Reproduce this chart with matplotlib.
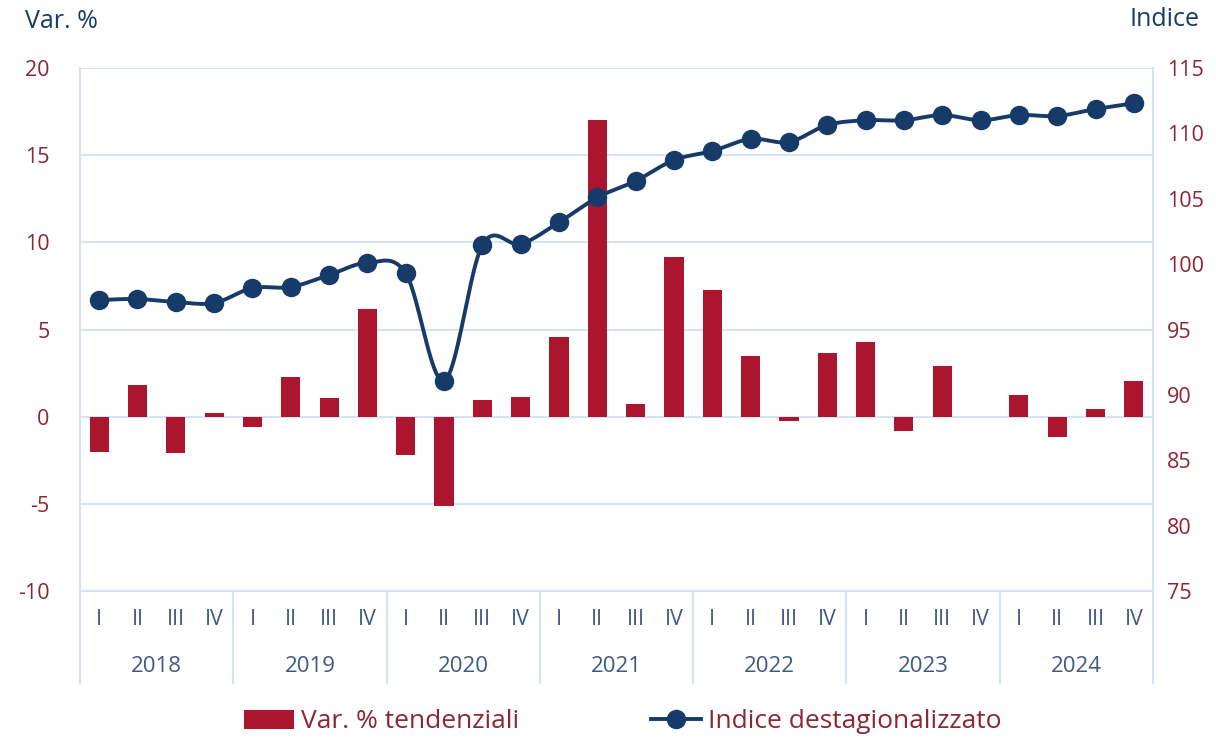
import numpy as np
import matplotlib.pyplot as plt
from matplotlib.lines import Line2D
from matplotlib.patches import Patch

plt.rcParams['font.family'] = ['Open Sans', 'DejaVu Sans']
plt.rcParams['axes.unicode_minus'] = False

years = ['2018', '2019', '2020', '2021', '2022', '2023', '2024']
quarters = ['I', 'II', 'III', 'IV']

var_tend = [-2.0, 1.8, -2.1, 0.2,
            -0.6, 2.3, 1.05, 6.2,
            -2.2, -5.1, 0.95, 1.1,
            4.55, 17.0, 0.72, 9.15,
            7.25, 3.47, -0.25, 3.64,
            4.27, -0.83, 2.9, 0.0,
            1.23, -1.18, 0.43, 2.04]

indice = [97.26, 97.33, 97.1, 97.03,
          98.17, 98.25, 99.17, 100.1,
          99.3, 91.06, 101.46, 101.54,
          103.2, 105.1, 106.36, 107.96,
          108.65, 109.57, 109.34, 110.64,
          111.0, 111.0, 111.4, 111.0,
          111.4, 111.33, 111.86, 112.3]

RED = '#AB162E'
NAVY = '#173B69'
TICK_RED = '#8C2633'
CAT = '#3E5A80'
GRID = '#D5E4F5'


def smooth(x, y, n=20):
    # catmull-rom, like the excel smoothed line
    x = np.asarray(x, float)
    y = np.asarray(y, float)
    px = np.concatenate([[2 * x[0] - x[1]], x, [2 * x[-1] - x[-2]]])
    py = np.concatenate([[2 * y[0] - y[1]], y, [2 * y[-1] - y[-2]]])
    xs, ys = [], []
    t = np.linspace(0, 1, n, endpoint=False)
    for i in range(1, len(px) - 2):
        for p, out in ((px, xs), (py, ys)):
            p0, p1, p2, p3 = p[i - 1], p[i], p[i + 1], p[i + 2]
            out.extend(0.5 * ((2 * p1) + (-p0 + p2) * t
                              + (2 * p0 - 5 * p1 + 4 * p2 - p3) * t ** 2
                              + (-p0 + 3 * p1 - 3 * p2 + p3) * t ** 3))
    xs.append(x[-1])
    ys.append(y[-1])
    return np.array(xs), np.array(ys)


fig = plt.figure(figsize=(12.16, 7.39), dpi=100)
ax = fig.add_axes([80 / 1216, 148 / 739, 1073 / 1216, 523 / 739])
ax2 = ax.twinx()

x = np.arange(len(var_tend))
ax.bar(x, var_tend, width=0.5, color=RED, zorder=3)
ax.set_xlim(-0.5, len(x) - 0.5)
ax.set_ylim(-10, 20)
ax.set_yticks(range(-10, 21, 5))
ax.yaxis.grid(True, color=GRID, lw=1.5, zorder=0)
ax.set_axisbelow(True)
ax.tick_params(axis='y', length=0, pad=22, labelsize=15.5, labelcolor=TICK_RED)
ax.set_xticks([])

sx, sy = smooth(x, indice)
ax2.plot(sx, sy, color=NAVY, lw=2.8, zorder=4)
ax2.plot(x, indice, 'o', color=NAVY, ms=13, zorder=5)
ax2.set_ylim(75, 115)
ax2.set_yticks(range(75, 116, 5))
ax2.tick_params(axis='y', length=0, pad=10, labelsize=15.5, labelcolor=TICK_RED)

for a in (ax, ax2):
    for s in a.spines.values():
        s.set_visible(False)
for side in ('left', 'right', 'bottom'):
    ax.spines[side].set_visible(True)
    ax.spines[side].set_color(GRID)
    ax.spines[side].set_linewidth(1.5)

# category axis: quarters and years
trans = ax.get_xaxis_transform()
for i in x:
    ax.text(i, -0.055, quarters[i % 4], transform=trans, ha='center', va='center',
            fontsize=15.5, color=CAT)
for k, yr in enumerate(years):
    ax.text(4 * k + 1.5, -0.145, yr, transform=trans, ha='center', va='center',
            fontsize=16, color=CAT)
for k in range(len(years) + 1):
    ax.plot([4 * k - 0.5] * 2, [0, -0.176], transform=trans, color=GRID, lw=1.5,
            clip_on=False)

fig.text(25 / 1216, 1 - 22 / 739, 'Var. %', ha='left', va='center', fontsize=18, color=NAVY)
fig.text(1200 / 1216, 1 - 20 / 739, 'Indice', ha='right', va='center', fontsize=18, color=NAVY)

handles = [Patch(facecolor=RED, edgecolor='none'),
           Line2D([], [], color=NAVY, lw=2.8, marker='o', ms=13)]
fig.legend(handles, ['Var. % tendenziali', 'Indice destagionalizzato'],
           loc='center', bbox_to_anchor=(0.512, 1 - 722 / 739), ncol=2, frameon=False,
           fontsize=19, labelcolor=TICK_RED, columnspacing=5.0, handlelength=1.9,
           handletextpad=0.25, borderpad=0)

fig.savefig('out.png', dpi=100)
